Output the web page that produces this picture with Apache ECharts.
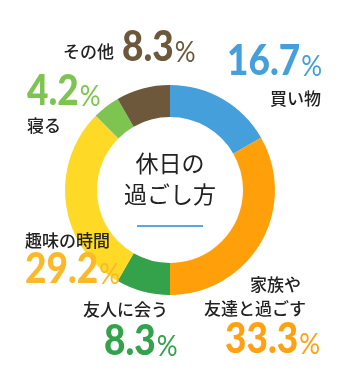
<!DOCTYPE html>
<html><head><meta charset="utf-8">
<script src="https://cdn.jsdelivr.net/npm/echarts@6/dist/echarts.min.js"></script>
<style>html,body{margin:0;padding:0;background:#fff}#c{width:340px;height:380px}</style>
</head><body><div id="c"></div>
<script>
const categories = ['買い物', '家族や友達と過ごす', '友人に会う', '趣味の時間', '寝る', 'その他'];
const nameLines = [['買い物'], ['家族や', '友達と過ごす'], ['友人に会う'], ['趣味の時間'], ['寝る'], ['その他']];
const values = [16.7, 33.3, 8.3, 29.2, 4.2, 8.3];
const sliceColors = ['#449fdb', '#ff9f0a', '#33a24a', '#fed926', '#7dc451', '#6d583c'];
const valueColors = ['#449fdb', '#ffa112', '#33a24a', '#fbb829', '#7dc451', '#6d583c'];
const title = ['休日の', '過ごし方'];

// label layout (pixels)
const nameLayout = [
  [{x: 270, y: 99, align: 'left'}],
  [{x: 301, y: 285, align: 'right'}, {x: 204, y: 309, align: 'left'}],
  [{x: 83, y: 310, align: 'left'}],
  [{x: 25, y: 241, align: 'left'}],
  [{x: 27, y: 126, align: 'left'}],
  [{x: 63, y: 52, align: 'left'}]
];
const valueLayout = [
  {x: 227, y: 76}, {x: 225, y: 354}, {x: 104, y: 356}, {x: 25, y: 284}, {x: 27, y: 106}, {x: 122, y: 62}
];

const chart = echarts.init(document.getElementById('c'), null, {renderer: 'canvas'});
const graphics = [];
nameLines.forEach((lines, i) => {
  lines.forEach((t, j) => {
    const p = nameLayout[i][j];
    graphics.push({type: 'text', z: 100, x: p.x, y: p.y, style: {text: t, align: p.align, verticalAlign: 'middle',
      font: '500 17px "Noto Sans CJK JP"', fill: '#222'}});
  });
  const v = valueLayout[i];
  graphics.push({type: 'text', z: 100, x: v.x, y: v.y, scaleY: 1.12, style: {
    text: '{n|' + values[i].toFixed(1) + '}{p|%}', align: 'left', verticalAlign: 'bottom',
    rich: {
      n: {fontFamily: 'Lato', fontWeight: 900, fontSize: 37, fill: valueColors[i], verticalAlign: 'bottom', lineHeight: 34, padding: [0, 1, -6, 0]},
      p: {fontFamily: 'Lato', fontWeight: 'normal', fontSize: 26, fill: valueColors[i], verticalAlign: 'bottom', lineHeight: 34, padding: [0, 0, -5, 0]}
    }}});
});
title.forEach((t, i) => {
  graphics.push({type: 'text', z: 100, x: 170, y: 163 + i * 31, style: {text: t, align: 'center', verticalAlign: 'middle',
    font: '23px "Noto Sans CJK JP"', fill: '#222'}});
});
graphics.push({type: 'line', z: 100, shape: {x1: 137, y1: 226, x2: 203, y2: 226}, style: {stroke: '#5aa6e0', lineWidth: 2}});

chart.setOption({
  animation: false,
  series: [{
    type: 'pie',
    center: [170, 190],
    radius: [73, 105],
    startAngle: 90,
    clockwise: true,
    label: {show: false},
    labelLine: {show: false},
    silent: true,
    data: categories.map((c, i) => ({name: c, value: values[i], itemStyle: {color: sliceColors[i]}}))
  }],
  graphic: graphics
});
</script></body></html>
